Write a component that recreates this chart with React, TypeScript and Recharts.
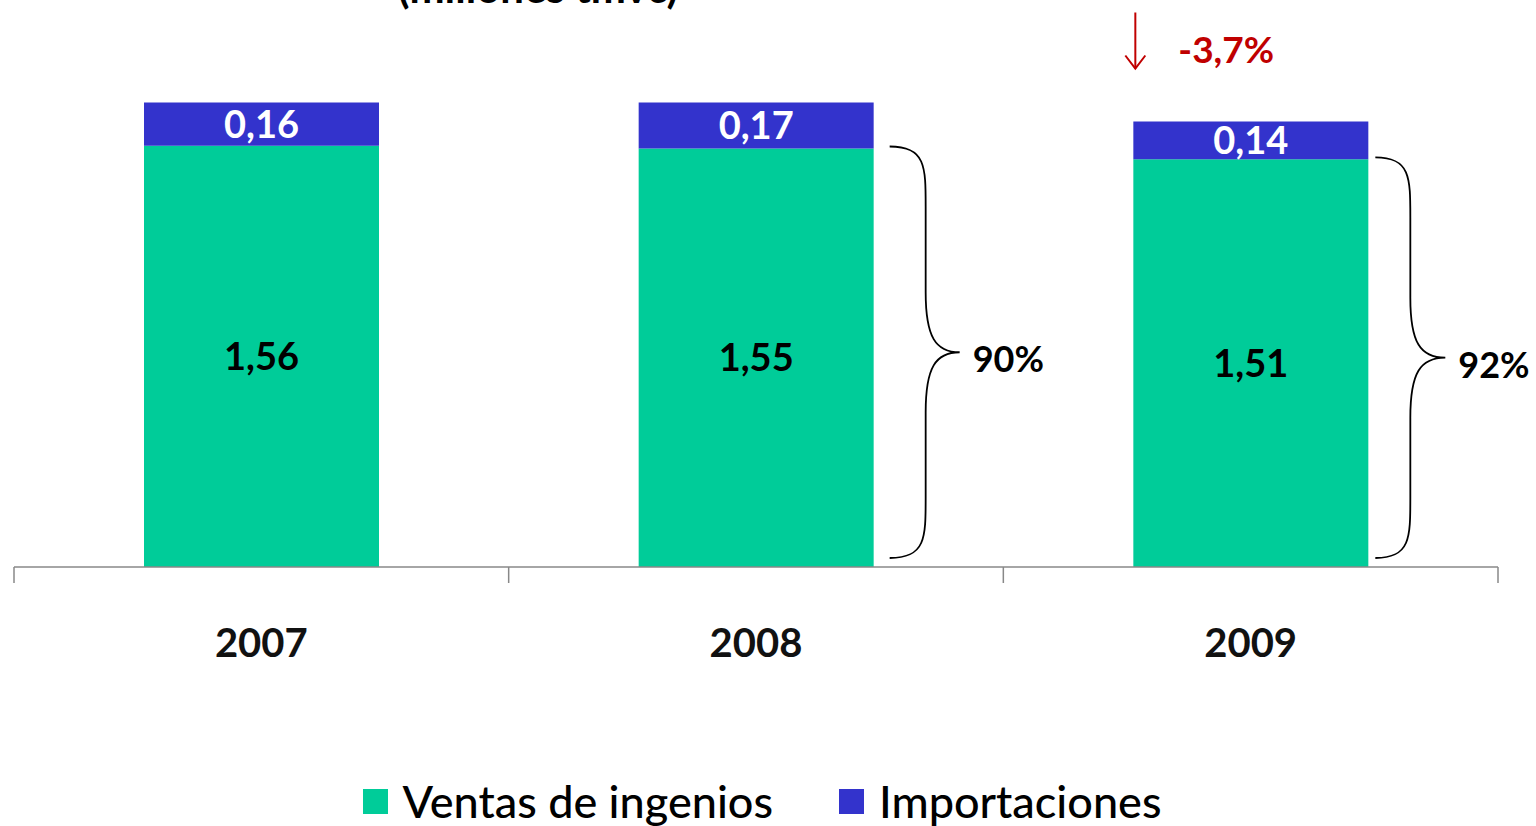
import { BarChart, Bar, XAxis, YAxis, LabelList, Legend, Customized } from 'recharts';

const years = ['2007', '2008', '2009'];
const ventas = [1.56, 1.55, 1.51];
const importaciones = [0.16, 0.17, 0.14];
const shares = [null, '90%', '92%'];
const changeLabel = '-3,7%';
const title = '(millones tmvc)';

const data = years.map((year, i) => ({
    year,
    ventas: ventas[i],
    importaciones: importaciones[i],
    share: shares[i],
}));

const WIDTH = 1536;
const HEIGHT = 826;
const MARGIN = { top: 27, right: 38, bottom: 0, left: 14 };
const BAND = (WIDTH - MARGIN.left - MARGIN.right) / years.length;
const FONT = 'Lato, "Open Sans", sans-serif';
const GREEN = '#00CC99';
const BLUE = '#3333CC';
const RED = '#C00000';

const fmt = (v: number) => v.toFixed(2).replace('.', ',');

const YearTick = (props: any) => {
    const { x, y, payload, index } = props;
    const half = BAND / 2;
    return (
        <g>
            <line x1={x - half} y1={y} x2={x - half} y2={y + 16} stroke="#888" strokeWidth={1.5} />
            {index === years.length - 1 && (
                <line x1={x + half} y1={y} x2={x + half} y2={y + 16} stroke="#888" strokeWidth={1.5} />
            )}
            <text x={x} y={y + 75} textAnchor="middle" dominantBaseline="central" fontFamily={FONT} fontWeight={700} fontSize={40} fill="#111">
                {payload.value}
            </text>
        </g>
    );
};

// curly brace to the right of the green segment, with its share label
const Brace = (props: any) => {
    const { x, y, width, height, index } = props;
    const share = data[index]?.share;
    if (!share) return null;
    const last = index === years.length - 1;
    const right = x + width;
    const x0 = right + (last ? 7 : 16);
    const xs = right + (last ? 42 : 52);
    const xt = right + (last ? 77 : 86);
    const top = y - 2;
    const bottom = y + height - 9;
    const ym = (top + bottom) / 2;
    const r = 60;
    const d = `M ${x0} ${top} C ${xs} ${top} ${xs} ${top + 20} ${xs} ${top + r}
        L ${xs} ${ym - r} C ${xs} ${ym - 15} ${xs + 10} ${ym} ${xt} ${ym}
        C ${xs + 10} ${ym} ${xs} ${ym + 15} ${xs} ${ym + r}
        L ${xs} ${bottom - r} C ${xs} ${bottom - 20} ${xs} ${bottom} ${x0} ${bottom}`;
    return (
        <g>
            <path d={d} fill="none" stroke="#000" strokeWidth={1.8} />
            <text x={xt + 13} y={ym + 6} dominantBaseline="central" fontFamily={FONT} fontWeight={700} fontSize={36} fill="#000">
                {share}
            </text>
        </g>
    );
};

// red arrow with the change over the last bar
const ChangeMark = (props: any) => {
    const { x, y, index } = props;
    if (index !== years.length - 1) return null;
    const ax = x + 2;
    const y1 = y - 109;
    const y2 = y - 53;
    return (
        <g>
            <line x1={ax} y1={y1} x2={ax} y2={y2} stroke={RED} strokeWidth={2} />
            <polyline points={`${ax - 10},${y2 - 13} ${ax},${y2} ${ax + 10},${y2 - 13}`} fill="none" stroke={RED} strokeWidth={2} />
            <text x={ax + 43} y={y - 73} dominantBaseline="central" fontFamily={FONT} fontWeight={700} fontSize={37} fill={RED}>
                {changeLabel}
            </text>
        </g>
    );
};

const Title = () => (
    <text x={538} y={3} textAnchor="middle" fontFamily={FONT} fontWeight={700} fontSize={42} fill="#000">
        {title}
    </text>
);

const LegendContent = () => (
    <div style={{ display: 'flex', justifyContent: 'center', alignItems: 'center', height: 50, fontFamily: FONT, fontSize: 45, fontWeight: 500, color: '#000', gap: 66, paddingLeft: 12 }}>
        {[
            { label: 'Ventas de ingenios', color: GREEN },
            { label: 'Importaciones', color: BLUE },
        ].map((item) => (
            <div key={item.label} style={{ display: 'flex', alignItems: 'center', gap: 15 }}>
                <span style={{ width: 25, height: 25, background: item.color, display: 'inline-block' }} />
                <span>{item.label}</span>
            </div>
        ))}
    </div>
);

const App = () => {
    return (
        <div style={{ position: 'absolute', left: 0, top: 0, width: WIDTH, height: HEIGHT, background: '#fff' }}>
            <BarChart width={WIDTH} height={HEIGHT} data={data} margin={MARGIN} barSize={235}>
                <XAxis
                    dataKey="year"
                    height={209}
                    tickLine={false}
                    tickSize={0}
                    tickMargin={0}
                    axisLine={{ stroke: '#888', strokeWidth: 1.5 }}
                    tick={<YearTick />}
                    interval={0}
                />
                <YAxis hide domain={[0, 2]} />
                <Bar dataKey="ventas" stackId="a" fill={GREEN} isAnimationActive={false}>
                    <LabelList dataKey="ventas" position="center" formatter={(v: any) => fmt(Number(v))} fill="#000" fontFamily={FONT} fontWeight={700} fontSize={38} />
                    <LabelList dataKey="ventas" content={<Brace />} />
                </Bar>
                <Bar dataKey="importaciones" stackId="a" fill={BLUE} isAnimationActive={false}>
                    <LabelList dataKey="importaciones" position="center" formatter={(v: any) => fmt(Number(v))} fill="#fff" fontFamily={FONT} fontWeight={700} fontSize={38} />
                    <LabelList dataKey="importaciones" content={<ChangeMark />} />
                </Bar>
                <Legend verticalAlign="bottom" content={<LegendContent />} wrapperStyle={{ height: 50 }} />
                <Customized component={<Title />} />
            </BarChart>
        </div>
    );
};

export default App;
